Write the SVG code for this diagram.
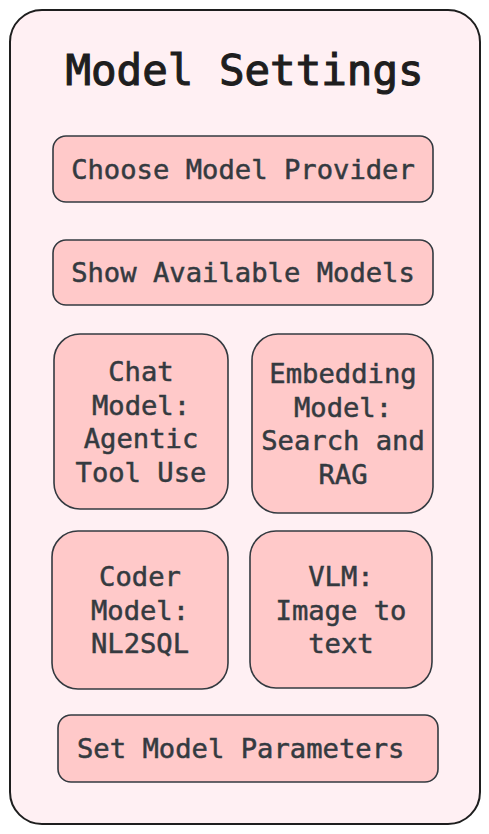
<svg xmlns="http://www.w3.org/2000/svg" width="489" height="834" viewBox="0 0 489 834">
<style>
.frame{fill:#fff0f3;stroke:#1e1e1e;stroke-width:2}
.box{fill:#ffc9c9;stroke:#343a40;stroke-width:1.6}
.title{font-family:"DejaVu Sans Mono",monospace;font-size:42.5px;fill:#1e1e1e;stroke:#1e1e1e;stroke-width:1.1;text-anchor:middle}
.t{font-family:"DejaVu Sans Mono",monospace;font-size:27.2px;fill:#343a40;stroke:#343a40;stroke-width:0.5;text-anchor:middle}
.ts{font-family:"DejaVu Sans Mono",monospace;font-size:27.2px;fill:#343a40;stroke:#343a40;stroke-width:0.5;text-anchor:start}
</style>
<rect width="489" height="834" fill="#ffffff"/>
<g id="frame">
<rect class="frame" x="10" y="10" width="470" height="814" rx="32"/>
<text class="title" x="244.5" y="85">Model Settings</text>
</g>
<g id="connectors"/>
<g id="choose-provider">
<rect class="box" x="53" y="136" width="380" height="66" rx="13"/>
<text class="t" x="243" y="179">Choose Model Provider</text>
</g>
<g id="show-models">
<rect class="box" x="53" y="240" width="380" height="65" rx="13"/>
<text class="t" x="243" y="282">Show Available Models</text>
</g>
<g id="chat-model">
<rect class="box" x="54" y="334" width="174" height="175" rx="26"/>
<text class="t" x="141" y="381">Chat</text>
<text class="t" x="141" y="415">Model:</text>
<text class="t" x="141" y="448">Agentic</text>
<text class="t" x="141" y="482">Tool Use</text>
</g>
<g id="embedding-model">
<rect class="box" x="252" y="334" width="181" height="179" rx="26"/>
<text class="t" x="343" y="383">Embedding</text>
<text class="t" x="343" y="417">Model:</text>
<text class="t" x="343" y="450">Search and</text>
<text class="t" x="343" y="484">RAG</text>
</g>
<g id="coder-model">
<rect class="box" x="52" y="531" width="176" height="158" rx="26"/>
<text class="t" x="140" y="586">Coder</text>
<text class="t" x="140" y="620">Model:</text>
<text class="t" x="140" y="653">NL2SQL</text>
</g>
<g id="vlm">
<rect class="box" x="250" y="531" width="182" height="157" rx="26"/>
<text class="t" x="341" y="586">VLM:</text>
<text class="t" x="341" y="620">Image to</text>
<text class="t" x="341" y="653">text</text>
</g>
<g id="set-parameters">
<rect class="box" x="58" y="715" width="380" height="67" rx="13"/>
<text class="ts" x="77" y="758">Set Model Parameters</text>
</g>
</svg>
